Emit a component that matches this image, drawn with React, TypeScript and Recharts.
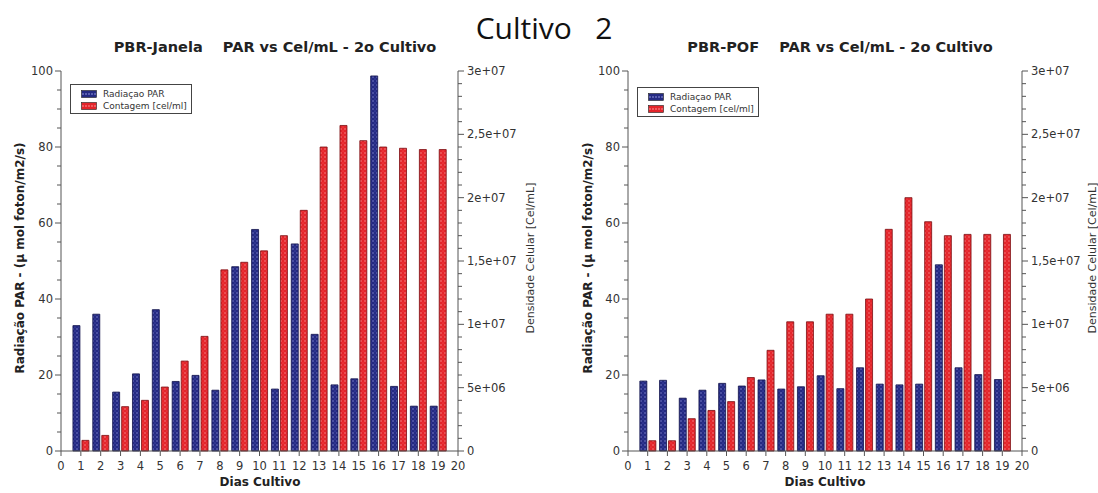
import { ComposedChart, Bar, XAxis, YAxis } from "recharts";

// Days of culture (x values)
const days = [1, 2, 3, 4, 5, 6, 7, 8, 9, 10, 11, 12, 13, 14, 15, 16, 17, 18, 19];

// PBR-Janela
const parJanela = [33, 36, 15.5, 20.3, 37.2, 18.3, 19.9, 16, 48.5, 58.3, 16.3, 54.5, 30.7, 17.4, 19, 98.7, 17, 11.8, 11.8];
const celJanela = [
  8.4e5, 1.23e6, 3.5e6, 4.0e6, 5.05e6, 7.1e6, 9.05e6, 1.43e7, 1.49e7, 1.58e7,
  1.7e7, 1.9e7, 2.4e7, 2.57e7, 2.45e7, 2.4e7, 2.39e7, 2.38e7, 2.38e7,
];

// PBR-POF
const parPof = [18.4, 18.6, 13.9, 16, 17.8, 17.1, 18.7, 16.3, 16.9, 19.8, 16.4, 21.9, 17.6, 17.4, 17.6, 49, 21.9, 20.1, 18.8];
const celPof = [
  8.1e5, 8.1e5, 2.55e6, 3.2e6, 3.9e6, 5.8e6, 7.95e6, 1.02e7, 1.02e7, 1.08e7,
  1.08e7, 1.2e7, 1.75e7, 2.0e7, 1.81e7, 1.7e7, 1.71e7, 1.71e7, 1.71e7,
];

const xTicks = Array.from({ length: 21 }, (_, i) => i);
const leftTicks = Array.from({ length: 21 }, (_, i) => i * 5);
const rightTicks = Array.from({ length: 31 }, (_, i) => i * 1e6);

const FONT = "'DejaVu Sans', Verdana, sans-serif";
const AXIS = "#555";
const NAVY = "#242a82";
const RED = "#e4252b";

const sciLabel = (v: number) => {
  if (v === 0) return "0";
  const exp = Math.floor(Math.log10(v));
  const mant = v / Math.pow(10, exp);
  return `${String(+mant.toFixed(2)).replace(".", ",")}e+${String(exp).padStart(2, "0")}`;
};

const XTick = ({ x, y, payload }: any) => (
  <g>
    <line x1={x} y1={y} x2={x} y2={y + 5} stroke={AXIS} />
    <text x={x} y={y + 19} textAnchor="middle" fontSize={11.5} fontFamily={FONT} fill="#333">
      {payload.value}
    </text>
  </g>
);

const LeftTick = ({ x, y, payload }: any) => {
  const major = payload.value % 20 === 0;
  return (
    <g>
      <line x1={x - (major ? 6 : 4)} y1={y} x2={x} y2={y} stroke={AXIS} />
      {major && (
        <text x={x - 8} y={y + 4} textAnchor="end" fontSize={11.5} fontFamily={FONT} fill="#333">
          {payload.value}
        </text>
      )}
    </g>
  );
};

const RightTick = ({ x, y, payload }: any) => {
  const major = payload.value % 5e6 === 0;
  return (
    <g>
      <line x1={x} y1={y} x2={x + (major ? 6 : 4)} y2={y} stroke={AXIS} />
      {major && (
        <text x={x + 9} y={y + 4} textAnchor="start" fontSize={11.5} fontFamily={FONT} fill="#333">
          {sciLabel(payload.value)}
        </text>
      )}
    </g>
  );
};

const Patterns = ({ id }: { id: string }) => (
  <defs>
    <pattern id={`navy-${id}`} width="4" height="4" patternUnits="userSpaceOnUse">
      <rect width="4" height="4" fill={NAVY} />
      <circle cx="1" cy="1" r="0.7" fill="#b8bcff" opacity="0.7" />
      <circle cx="3" cy="3" r="0.5" fill="#8088ee" opacity="0.6" />
    </pattern>
    <pattern id={`red-${id}`} width="4" height="4" patternUnits="userSpaceOnUse">
      <rect width="4" height="4" fill={RED} />
      <circle cx="1" cy="1" r="0.7" fill="#ffc0c0" opacity="0.7" />
      <circle cx="3" cy="3" r="0.5" fill="#ff8080" opacity="0.6" />
    </pattern>
  </defs>
);

const Swatch = ({ color, dot }: { color: string; dot: string }) => (
  <svg width={16} height={8} style={{ marginRight: 6 }}>
    <rect x={0.5} y={0.5} width={15} height={7} fill={color} stroke="#222" strokeWidth={0.6} />
    {[2, 5, 8, 11, 14].map((cx) => (
      <circle key={cx} cx={cx} cy={4} r={0.7} fill={dot} />
    ))}
  </svg>
);

interface PanelProps {
  id: string;
  left: number;
  title: string;
  par: number[];
  cel: number[];
  leftWidth: number;
  rightWidth: number;
  legendX: number;
  legendY: number;
  yLabelX: number;
  rLabelX: number;
  titleX: number;
  xLabelX: number;
}

const Panel = (p: PanelProps) => {
  const data = days.map((d, i) => ({ day: d, par: p.par[i], cel: p.cel[i] }));
  return (
    <div style={{ position: "absolute", left: p.left, top: 0, width: 550, height: 493 }}>
      <ComposedChart
        width={550}
        height={493}
        data={data}
        margin={{ top: 71, right: 0, bottom: 2, left: 0 }}
        barSize={7}
        barGap={2}
      >
        <Patterns id={p.id} />
        <XAxis
          dataKey="day"
          type="number"
          domain={[0, 20]}
          ticks={xTicks}
          interval={0}
          height={40}
          tickSize={0}
          tickMargin={0}
          tick={<XTick />}
          axisLine={{ stroke: AXIS }}
        />
        <YAxis
          yAxisId="left"
          orientation="left"
          domain={[0, 100]}
          ticks={leftTicks}
          interval={0}
          width={p.leftWidth}
          tickSize={0}
          tickMargin={0}
          tick={<LeftTick />}
          axisLine={{ stroke: AXIS }}
        />
        <YAxis
          yAxisId="right"
          orientation="right"
          domain={[0, 3e7]}
          ticks={rightTicks}
          interval={0}
          width={p.rightWidth}
          tickSize={0}
          tickMargin={0}
          tick={<RightTick />}
          axisLine={{ stroke: AXIS }}
        />
        <Bar
          yAxisId="left"
          dataKey="par"
          fill={`url(#navy-${p.id})`}
          stroke="#10124a"
          strokeWidth={0.8}
          isAnimationActive={false}
        />
        <Bar
          yAxisId="right"
          dataKey="cel"
          fill={`url(#red-${p.id})`}
          stroke="#7a0d10"
          strokeWidth={0.8}
          isAnimationActive={false}
        />
      </ComposedChart>

      {/* title */}
      <div
        style={{
          position: "absolute",
          left: p.titleX,
          top: 47,
          transform: "translate(-50%, -50%)",
          whiteSpace: "pre",
          fontFamily: FONT,
          fontWeight: "bold",
          fontSize: 14.5,
          color: "#222",
        }}
      >
        {p.title}
      </div>

      {/* legend */}
      <div
        style={{
          position: "absolute",
          left: p.legendX,
          top: p.legendY,
          width: 122,
          height: 30,
          border: "1px solid #444",
          background: "#fff",
          fontFamily: FONT,
          fontSize: 9,
          color: "#333",
          padding: "3px 0 0 10px",
          boxSizing: "border-box",
          lineHeight: "12px",
        }}
      >
        <div style={{ display: "flex", alignItems: "center" }}>
          <Swatch color={NAVY} dot="#b8bcff" />
          Radiaçao PAR
        </div>
        <div style={{ display: "flex", alignItems: "center" }}>
          <Swatch color={RED} dot="#ffc0c0" />
          Contagem [cel/ml]
        </div>
      </div>

      {/* left axis label */}
      <div
        style={{
          position: "absolute",
          left: p.yLabelX,
          top: 258,
          transform: "translate(-50%, -50%) rotate(-90deg)",
          whiteSpace: "nowrap",
          fontFamily: FONT,
          fontWeight: "bold",
          fontSize: 12,
          color: "#222",
        }}
      >
        Radiação PAR - (μ mol foton/m2/s)
      </div>

      {/* right axis label */}
      <div
        style={{
          position: "absolute",
          left: p.rLabelX,
          top: 258,
          transform: "translate(-50%, -50%) rotate(-90deg)",
          whiteSpace: "nowrap",
          fontFamily: FONT,
          fontSize: 11,
          color: "#333",
        }}
      >
        Densidade Celular [Cel/mL]
      </div>

      {/* x axis label */}
      <div
        style={{
          position: "absolute",
          left: p.xLabelX,
          top: 482,
          transform: "translate(-50%, -50%)",
          whiteSpace: "nowrap",
          fontFamily: FONT,
          fontWeight: "bold",
          fontSize: 12,
          color: "#222",
        }}
      >
        Dias Cultivo
      </div>
    </div>
  );
};

export default function App() {
  return (
    <div style={{ position: "absolute", left: 0, top: 0, width: 1098, height: 493, background: "#fff", overflow: "hidden" }}>
      <Panel
        id="a"
        left={0}
        title={"PBR-Janela    PAR vs Cel/mL - 2o Cultivo"}
        par={parJanela}
        cel={celJanela}
        leftWidth={61}
        rightWidth={92}
        legendX={70}
        legendY={84}
        yLabelX={20}
        rLabelX={530}
        titleX={275}
        xLabelX={260}
      />
      <Panel
        id="b"
        left={548}
        title={"PBR-POF    PAR vs Cel/mL - 2o Cultivo"}
        par={parPof}
        cel={celPof}
        leftWidth={80}
        rightWidth={76}
        legendX={89}
        legendY={87}
        yLabelX={40}
        rLabelX={544}
        titleX={292}
        xLabelX={277}
      />
      <div
        style={{
          position: "absolute",
          left: 544,
          top: 27,
          transform: "translate(-50%, -50%)",
          whiteSpace: "pre",
          fontFamily: "'Open Sans', 'Noto Sans', sans-serif",
          fontSize: 30,
          color: "#111",
        }}
      >
        {"Cultivo   2"}
      </div>
    </div>
  );
}
